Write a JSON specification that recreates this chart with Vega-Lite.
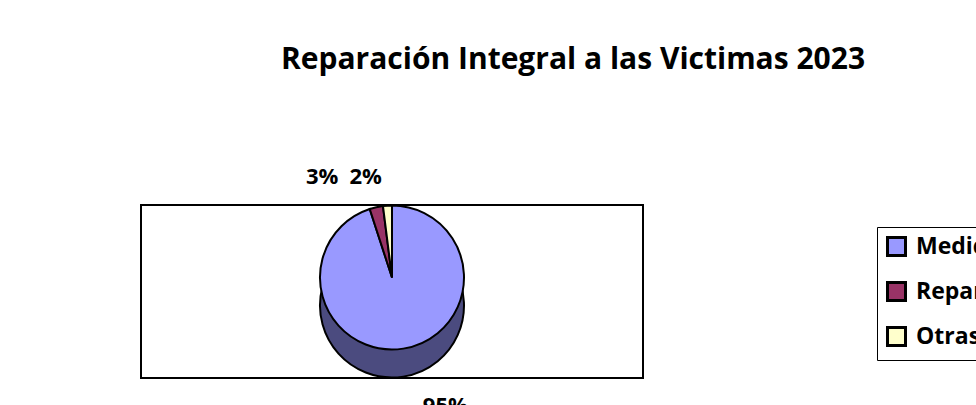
{
  "$schema": "https://vega.github.io/schema/vega-lite/v6.json",
  "autosize": {"type": "none"},
  "width": 502,
  "height": 173,
  "padding": {"left": 141, "top": 205, "right": 333, "bottom": 27},
  "background": "white",
  "view": {"stroke": "black", "strokeWidth": 2, "fill": null},
  "title": {
    "text": "Reparación Integral a las Victimas 2023",
    "font": "Open Sans",
    "fontSize": 30,
    "fontWeight": "bold",
    "color": "black",
    "anchor": "middle",
    "frame": "group",
    "dx": 181,
    "baseline": "alphabetic",
    "offset": 38
  },
  "config": {
    "view": {"stroke": "black", "strokeWidth": 2},
    "font": "Open Sans"
  },
  "data": {
    "values": [
      {"categoria": "Medidas de Satisfacción", "valor": 0.95},
      {"categoria": "Reparación Individual", "valor": 0.03},
      {"categoria": "Otras Medidas", "valor": 0.02}
    ]
  },
  "encoding": {
    "theta": {"field": "valor", "type": "quantitative", "stack": true},
    "order": {"field": "valor", "type": "quantitative", "sort": "descending"},
    "detail": {"field": "categoria", "type": "nominal"}
  },
  "layer": [
    {
      "mark": {"type": "arc", "outerRadius": 72, "yOffset": 14, "color": "#4B4B7F", "stroke": "black", "strokeWidth": 2}
    },
    {
      "mark": {"type": "arc", "outerRadius": 72, "yOffset": -14, "stroke": "black", "strokeWidth": 2, "opacity": 1},
      "encoding": {
        "color": {
          "field": "categoria",
          "type": "nominal",
          "sort": ["Medidas de Satisfacción", "Reparación Individual", "Otras Medidas"],
          "scale": {
            "domain": ["Medidas de Satisfacción", "Reparación Individual", "Otras Medidas"],
            "range": ["#9999FF", "#993366", "#FFFFCC"]
          },
          "legend": {
            "title": null,
            "orient": "none",
            "legendX": 736,
            "legendY": 22,
            "strokeColor": "black",
            "padding": 8,
            "symbolType": "square",
            "symbolSize": 324,
            "symbolStrokeColor": "black",
            "symbolStrokeWidth": 3,
            "symbolOpacity": 1,
            "labelFont": "Open Sans",
            "labelFontSize": 23,
            "labelFontWeight": "bold",
            "labelColor": "black",
            "labelLimit": 400,
            "labelOffset": 8,
            "rowPadding": 14
          }
        }
      }
    },
    {
      "mark": {"type": "text", "radius": 130, "yOffset": -14, "dx": 33, "font": "Open Sans", "fontSize": 22, "fontWeight": "bold", "color": "black"},
      "encoding": {
        "text": {"condition": {"test": "datum.categoria === 'Medidas de Satisfacción'", "field": "valor", "type": "quantitative", "format": ".0%"}, "value": ""}
      }
    },
    {
      "mark": {"type": "text", "radius": 100, "yOffset": -14, "dx": -48, "dy": -3, "font": "Open Sans", "fontSize": 22, "fontWeight": "bold", "color": "black"},
      "encoding": {
        "text": {"condition": {"test": "datum.categoria === 'Reparación Individual'", "field": "valor", "type": "quantitative", "format": ".0%"}, "value": ""}
      }
    },
    {
      "mark": {"type": "text", "radius": 100, "yOffset": -14, "dx": -20, "dy": -1, "font": "Open Sans", "fontSize": 22, "fontWeight": "bold", "color": "black"},
      "encoding": {
        "text": {"condition": {"test": "datum.categoria === 'Otras Medidas'", "field": "valor", "type": "quantitative", "format": ".0%"}, "value": ""}
      }
    }
  ]
}
